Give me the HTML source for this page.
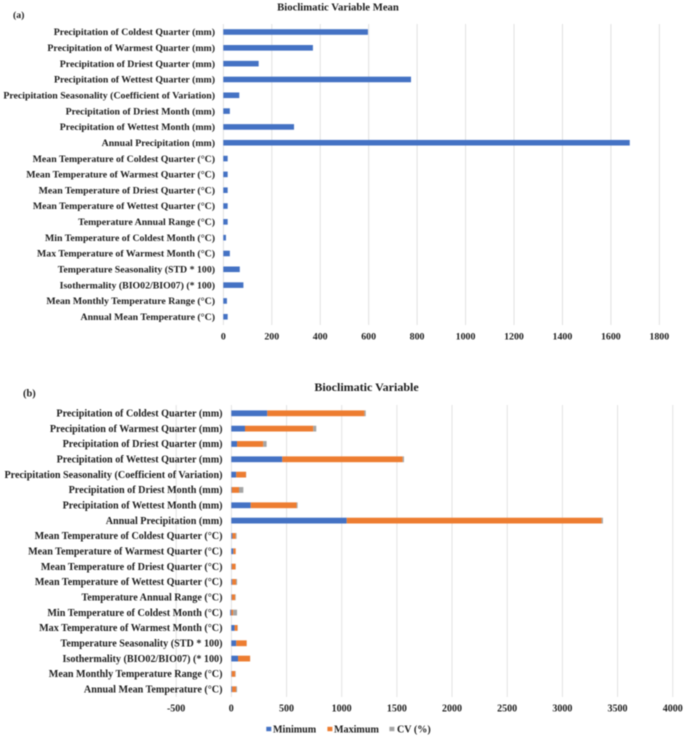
<!DOCTYPE html>
<html lang="en">
<head>
<meta charset="utf-8">
<title>Bioclimatic Variable Charts</title>
<style>
html,body{margin:0;padding:0;background:#fff;width:685px;height:737px;overflow:hidden}
svg{display:block;filter:blur(0.45px)}
text{font-family:"Liberation Serif",serif;font-weight:bold;fill:#1c1c1c}
</style>
</head>
<body>
<svg id="chart" xmlns="http://www.w3.org/2000/svg" width="685" height="737" viewBox="0 0 685 737">
  <rect x="0" y="0" width="685" height="737" fill="#ffffff"/>
  <g id="panelA">
    <text x="13" y="18" font-size="9.8">(a)</text>
    <text x="338" y="10.5" font-size="10.7" text-anchor="middle">Bioclimatic Variable Mean</text>
  </g>
  <g id="panelB">
    <text x="23" y="396.5" font-size="10.4">(b)</text>
    <text x="366.5" y="391" font-size="12" text-anchor="middle">Bioclimatic Variable</text>
    <rect x="266.3" y="726.8" width="5" height="4.4" fill="#4472C4"/>
    <text x="273" y="732.5" font-size="10.1">Minimum</text>
    <rect x="327.4" y="726.8" width="5" height="4.4" fill="#ED7D31"/>
    <text x="334" y="732.5" font-size="10.1">Maximum</text>
    <rect x="389.4" y="726.8" width="5" height="4.4" fill="#A5A5A5"/>
    <text x="397" y="732.5" font-size="10.1">CV (%)</text>
  </g>
</svg>
<script>
const categories = [
  "Precipitation of Coldest Quarter (mm)",
  "Precipitation of Warmest Quarter (mm)",
  "Precipitation of Driest Quarter (mm)",
  "Precipitation of Wettest Quarter (mm)",
  "Precipitation Seasonality (Coefficient of Variation)",
  "Precipitation of Driest Month (mm)",
  "Precipitation of Wettest Month (mm)",
  "Annual Precipitation (mm)",
  "Mean Temperature of Coldest Quarter (°C)",
  "Mean Temperature of Warmest Quarter (°C)",
  "Mean Temperature of Driest Quarter (°C)",
  "Mean Temperature of Wettest Quarter (°C)",
  "Temperature Annual Range (°C)",
  "Min Temperature of Coldest Month (°C)",
  "Max Temperature of Warmest Month (°C)",
  "Temperature Seasonality (STD * 100)",
  "Isothermality (BIO02/BIO07) (* 100)",
  "Mean Monthly Temperature Range (°C)",
  "Annual Mean Temperature (°C)"
];
const meanValues = [597, 370, 146, 775, 66, 27, 292, 1678, 18, 18, 18, 18, 18, 11, 27, 68, 83, 15, 18];
const minimumValues = [326, 124, 52, 462, 45, 5, 176, 1046, 10, 18, 5, 8, 5, -10, 30, 45, 61, 4, 8];
const maximumValues = [880, 619, 238, 1091, 88, 65, 416, 2310, 30, 22, 33, 35, 30, 17, 26, 94, 109, 32, 35];
const cvValues = [12, 27, 30, 12, 2, 39, 9, 12, 8, 0, 2, 9, 5, 35, 2, 1, 1, 4, 9];
const ticksA = [0, 200, 400, 600, 800, 1000, 1200, 1400, 1600, 1800];
const ticksB = [-500, 0, 500, 1000, 1500, 2000, 2500, 3000, 3500, 4000];

const NS = "http://www.w3.org/2000/svg";
function xA(v){ return 223.3 + v * (436 / 1800); }
function yA(i){ return 32 + i * 15.82; }
function xB(v){ return 231.3 + v * (441.4 / 4000); }
function yB(i){ return 413.3 + i * 15.33; }
function slug(s){ return s.toLowerCase().replace(/[^a-z0-9]+/g, "-").replace(/^-|-$/g, ""); }

function makeRect(parent, x, y, w, h, fill){
  const r = document.createElementNS(NS, "rect");
  r.setAttribute("x", x);
  r.setAttribute("y", y);
  r.setAttribute("width", w);
  r.setAttribute("height", h);
  r.setAttribute("fill", fill);
  parent.appendChild(r);
  return r;
}
function makeText(parent, x, y, size, anchor, str){
  const t = document.createElementNS(NS, "text");
  t.setAttribute("x", x);
  t.setAttribute("y", y);
  t.setAttribute("font-size", size);
  t.setAttribute("text-anchor", anchor);
  t.textContent = str;
  parent.appendChild(t);
  return t;
}

const panelA = document.getElementById("panelA");
const panelB = document.getElementById("panelB");

ticksA.forEach(function(tick){
  const g = makeRect(panelA, xA(tick) - 0.4, 24, 0.9, 301, "#dedede");
  
  
  const l = makeText(panelA, xA(tick), 339.3, 9.9, "middle", String(tick));
  
  
});
categories.forEach(function(cat, i){
  const l = makeText(panelA, 215, yA(i) + 3.2, 9.83, "end", cat);
  
  
  const b = makeRect(panelA, xA(0), yA(i) - 2.8, xA(meanValues[i]) - xA(0), 5.6, "#4472C4");
  
  
});

ticksB.forEach(function(tick){
  const g = makeRect(panelB, xB(tick) - 0.4, 405, 0.9, 292, "#e0e0e0");
  
  
  const l = makeText(panelB, xB(tick), 711.5, 10, "middle", String(tick));
  
  
});
const seriesB = [minimumValues, maximumValues, cvValues];
const seriesColors = ["#4472C4", "#ED7D31", "#A5A5A5"];
const seriesNames = ["minimum", "maximum", "cv"];
categories.forEach(function(cat, i){
  const l = makeText(panelB, 222.5, yB(i) + 3.2, 10.13, "end", cat);
  
  
  let pos = 0, neg = 0;
  seriesB.forEach(function(series, s){
    const v = series[i];
    let a, b2;
    if (v >= 0) { a = xB(pos); pos += v; b2 = xB(pos); }
    else { b2 = xB(neg); neg += v; a = xB(neg); }
    const r = makeRect(panelB, a, yB(i) - 2.9, b2 - a, 5.8, seriesColors[s]);
    
    
  });
});
</script>
</body>
</html>
